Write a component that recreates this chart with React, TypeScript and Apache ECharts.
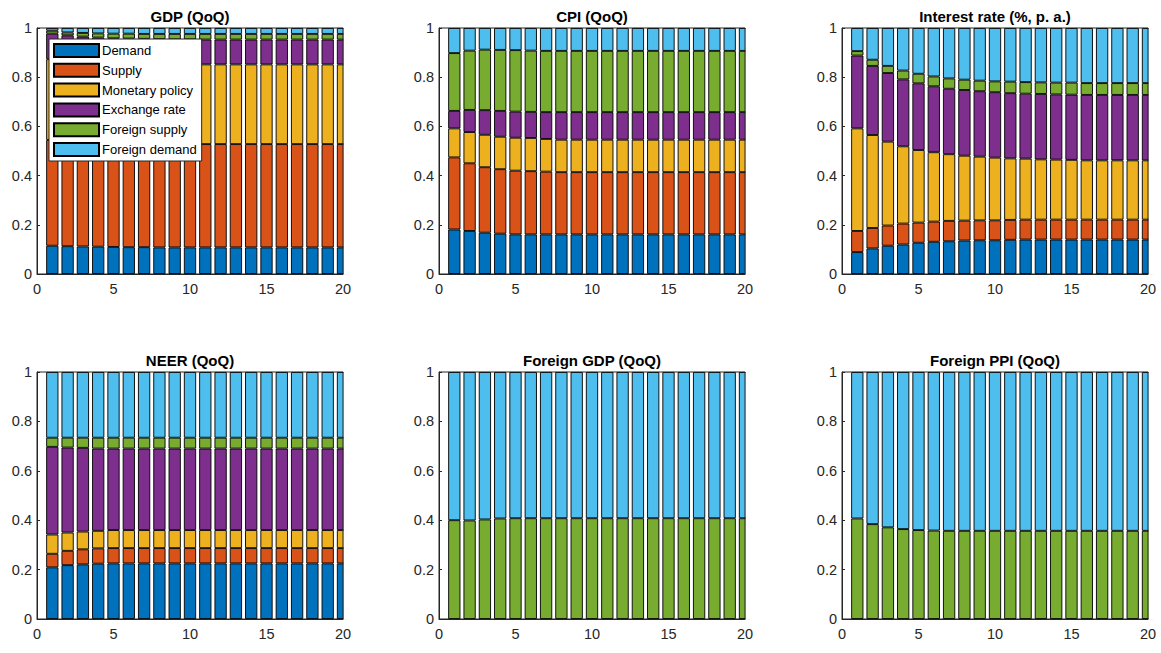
import React, { useEffect, useRef } from "react";
import * as echarts from "echarts";

const axisCategories = ["0", "1", "2", "3", "4", "5", "6", "7", "8", "9", "10", "11", "12", "13", "14", "15", "16", "17", "18", "19", "20"];
const periods = ["1", "2", "3", "4", "5", "6", "7", "8", "9", "10", "11", "12", "13", "14", "15", "16", "17", "18", "19", "20"];
const shockNames = ["Demand", "Supply", "Monetary policy", "Exchange rate", "Foreign supply", "Foreign demand"];
const shockColors = ["#0072BD", "#D95319", "#EDB120", "#7E2F8E", "#77AC30", "#4DBEEE"];
const panelTitles = ["GDP (QoQ)", "CPI (QoQ)", "Interest rate (%, p. a.)", "NEER (QoQ)", "Foreign GDP (QoQ)", "Foreign PPI (QoQ)"];
const yTicks = [0, 0.2, 0.4, 0.6, 0.8, 1];

// GDP (QoQ)
const gdpDemand = [0.115, 0.113, 0.112, 0.111, 0.110, 0.109, 0.109, 0.108, 0.108, 0.108, 0.108, 0.108, 0.108, 0.108, 0.108, 0.108, 0.108, 0.108, 0.108, 0.108];
const gdpSupply = [0.430, 0.425, 0.422, 0.421, 0.421, 0.421, 0.420, 0.421, 0.420, 0.420, 0.420, 0.420, 0.420, 0.420, 0.420, 0.420, 0.420, 0.420, 0.420, 0.420];
const gdpMonetary = [0.328, 0.327, 0.326, 0.325, 0.324, 0.324, 0.324, 0.324, 0.324, 0.324, 0.324, 0.324, 0.324, 0.324, 0.324, 0.324, 0.324, 0.324, 0.324, 0.324];
const gdpExchange = [0.104, 0.105, 0.105, 0.104, 0.103, 0.103, 0.103, 0.102, 0.102, 0.102, 0.101, 0.101, 0.101, 0.101, 0.101, 0.101, 0.101, 0.101, 0.101, 0.101];
const gdpForeignSupply = [0.012, 0.012, 0.015, 0.017, 0.019, 0.020, 0.020, 0.021, 0.022, 0.022, 0.023, 0.023, 0.023, 0.023, 0.023, 0.023, 0.023, 0.023, 0.023, 0.023];
const gdpForeignDemand = [0.011, 0.018, 0.020, 0.022, 0.023, 0.023, 0.024, 0.024, 0.024, 0.024, 0.024, 0.024, 0.024, 0.024, 0.024, 0.024, 0.024, 0.024, 0.024, 0.024];

// CPI (QoQ)
const cpiDemand = [0.181, 0.175, 0.168, 0.164, 0.161, 0.161, 0.161, 0.161, 0.161, 0.161, 0.161, 0.161, 0.161, 0.161, 0.161, 0.161, 0.161, 0.161, 0.161, 0.161];
const cpiSupply = [0.293, 0.275, 0.266, 0.262, 0.259, 0.257, 0.255, 0.253, 0.253, 0.253, 0.253, 0.253, 0.253, 0.253, 0.253, 0.253, 0.253, 0.253, 0.253, 0.253];
const cpiMonetary = [0.118, 0.127, 0.132, 0.132, 0.134, 0.135, 0.133, 0.132, 0.132, 0.132, 0.132, 0.132, 0.132, 0.132, 0.132, 0.132, 0.132, 0.132, 0.132, 0.132];
const cpiExchange = [0.071, 0.090, 0.100, 0.105, 0.106, 0.106, 0.109, 0.112, 0.112, 0.112, 0.112, 0.112, 0.112, 0.112, 0.112, 0.112, 0.112, 0.112, 0.112, 0.112];
const cpiForeignSupply = [0.235, 0.241, 0.246, 0.248, 0.250, 0.249, 0.249, 0.249, 0.249, 0.249, 0.249, 0.249, 0.249, 0.249, 0.249, 0.249, 0.249, 0.249, 0.249, 0.249];
const cpiForeignDemand = [0.102, 0.092, 0.088, 0.089, 0.090, 0.092, 0.093, 0.093, 0.093, 0.093, 0.093, 0.093, 0.093, 0.093, 0.093, 0.093, 0.093, 0.093, 0.093, 0.093];

// Interest rate (%, p. a.)
const rateDemand = [0.089, 0.104, 0.115, 0.120, 0.127, 0.131, 0.133, 0.136, 0.137, 0.137, 0.139, 0.140, 0.140, 0.140, 0.140, 0.140, 0.140, 0.140, 0.140, 0.140];
const rateSupply = [0.086, 0.083, 0.082, 0.085, 0.082, 0.082, 0.083, 0.081, 0.081, 0.081, 0.081, 0.081, 0.081, 0.081, 0.081, 0.081, 0.081, 0.081, 0.081, 0.081];
const rateMonetary = [0.417, 0.378, 0.341, 0.314, 0.295, 0.282, 0.271, 0.264, 0.259, 0.255, 0.250, 0.248, 0.245, 0.244, 0.243, 0.241, 0.241, 0.241, 0.241, 0.241];
const rateExchange = [0.296, 0.281, 0.279, 0.272, 0.271, 0.268, 0.266, 0.267, 0.266, 0.266, 0.265, 0.264, 0.266, 0.265, 0.265, 0.266, 0.266, 0.266, 0.266, 0.266];
const rateForeignSupply = [0.018, 0.025, 0.029, 0.036, 0.039, 0.040, 0.042, 0.042, 0.043, 0.044, 0.047, 0.047, 0.047, 0.048, 0.049, 0.048, 0.048, 0.048, 0.048, 0.048];
const rateForeignDemand = [0.094, 0.129, 0.154, 0.173, 0.186, 0.197, 0.205, 0.210, 0.214, 0.217, 0.218, 0.220, 0.221, 0.222, 0.222, 0.224, 0.224, 0.224, 0.224, 0.224];

// NEER (QoQ)
const neerDemand = [0.209, 0.218, 0.221, 0.224, 0.225, 0.225, 0.225, 0.225, 0.225, 0.225, 0.225, 0.225, 0.225, 0.225, 0.225, 0.225, 0.225, 0.225, 0.225, 0.225];
const neerSupply = [0.055, 0.058, 0.061, 0.062, 0.062, 0.062, 0.062, 0.062, 0.062, 0.062, 0.062, 0.062, 0.062, 0.062, 0.062, 0.062, 0.062, 0.062, 0.062, 0.062];
const neerMonetary = [0.078, 0.074, 0.072, 0.071, 0.073, 0.073, 0.073, 0.073, 0.073, 0.073, 0.073, 0.073, 0.073, 0.073, 0.073, 0.073, 0.073, 0.073, 0.073, 0.073];
const neerExchange = [0.355, 0.344, 0.339, 0.333, 0.330, 0.330, 0.330, 0.330, 0.330, 0.330, 0.330, 0.330, 0.330, 0.330, 0.330, 0.330, 0.330, 0.330, 0.330, 0.330];
const neerForeignSupply = [0.037, 0.040, 0.041, 0.044, 0.044, 0.044, 0.044, 0.044, 0.044, 0.044, 0.044, 0.044, 0.044, 0.044, 0.044, 0.044, 0.044, 0.044, 0.044, 0.044];
const neerForeignDemand = [0.266, 0.266, 0.266, 0.266, 0.266, 0.266, 0.266, 0.266, 0.266, 0.266, 0.266, 0.266, 0.266, 0.266, 0.266, 0.266, 0.266, 0.266, 0.266, 0.266];

// Foreign GDP (QoQ)
const fgdpForeignSupply = [0.400, 0.399, 0.403, 0.407, 0.408, 0.408, 0.408, 0.408, 0.408, 0.408, 0.408, 0.408, 0.408, 0.408, 0.408, 0.408, 0.408, 0.408, 0.408, 0.408];
const fgdpForeignDemand = [0.600, 0.601, 0.597, 0.593, 0.592, 0.592, 0.592, 0.592, 0.592, 0.592, 0.592, 0.592, 0.592, 0.592, 0.592, 0.592, 0.592, 0.592, 0.592, 0.592];

// Foreign PPI (QoQ)
const fppiForeignSupply = [0.407, 0.384, 0.371, 0.364, 0.360, 0.358, 0.357, 0.357, 0.357, 0.357, 0.357, 0.357, 0.357, 0.357, 0.357, 0.357, 0.357, 0.357, 0.357, 0.357];
const fppiForeignDemand = [0.593, 0.616, 0.629, 0.636, 0.640, 0.642, 0.643, 0.643, 0.643, 0.643, 0.643, 0.643, 0.643, 0.643, 0.643, 0.643, 0.643, 0.643, 0.643, 0.643];

const panelData: (number[] | null)[][] = [
  [gdpDemand, gdpSupply, gdpMonetary, gdpExchange, gdpForeignSupply, gdpForeignDemand],
  [cpiDemand, cpiSupply, cpiMonetary, cpiExchange, cpiForeignSupply, cpiForeignDemand],
  [rateDemand, rateSupply, rateMonetary, rateExchange, rateForeignSupply, rateForeignDemand],
  [neerDemand, neerSupply, neerMonetary, neerExchange, neerForeignSupply, neerForeignDemand],
  [null, null, null, null, fgdpForeignSupply, fgdpForeignDemand],
  [null, null, null, null, fppiForeignSupply, fppiForeignDemand],
];

const FONT = '"Liberation Sans", Arial, Helvetica, sans-serif';
const AXIS_COLOR = "#262626";

export default function App() {
  const ref = useRef<HTMLDivElement>(null);

  useEffect(() => {
    document.body.style.margin = "0";
    if (!ref.current) return;
    const chart = echarts.init(ref.current, undefined, { renderer: "svg" });

    const colLefts = [37, 439, 842];
    const rowTops = [28, 372];
    const gridW = 306;
    const rowHeights = [246, 247];
    const unitPx = gridW / (axisCategories.length - 1);

    const grids: any[] = [];
    const xAxes: any[] = [];
    const yAxes: any[] = [];
    const series: any[] = [];
    const graphics: any[] = [];

    panelTitles.forEach((title, p) => {
      const col = p % 3;
      const row = Math.floor(p / 3);
      const left = colLefts[col];
      const top = rowTops[row];
      const h = rowHeights[row];
      grids.push({
        left,
        top,
        width: gridW,
        height: h,
        show: true,
        borderColor: AXIS_COLOR,
        borderWidth: 1,
        backgroundColor: "#fff",
        containLabel: false,
      });
      xAxes.push({
        type: "category",
        gridIndex: p,
        data: axisCategories,
        boundaryGap: false,
        axisLine: { show: true, onZero: false, lineStyle: { color: AXIS_COLOR, width: 1 } },
        axisTick: { show: true, inside: true, length: 3, interval: 4, lineStyle: { color: AXIS_COLOR } },
        axisLabel: { color: AXIS_COLOR, fontSize: 14.5, fontFamily: FONT, margin: 7, interval: 4 },
        splitLine: { show: false },
      });
      yAxes.push({
        type: "value",
        gridIndex: p,
        min: yTicks[0],
        max: yTicks[yTicks.length - 1],
        interval: 0.2,
        axisLine: { show: true, lineStyle: { color: AXIS_COLOR, width: 1 } },
        axisTick: { show: true, inside: true, length: 3, lineStyle: { color: AXIS_COLOR } },
        axisLabel: { color: AXIS_COLOR, fontSize: 14.5, fontFamily: FONT, margin: 5 },
        splitLine: { show: false },
      });
      panelData[p].forEach((arr, s) => {
        if (!arr) return;
        series.push({
          type: "bar",
          name: shockNames[s],
          stack: "panel" + p,
          xAxisIndex: p,
          yAxisIndex: p,
          barWidth: unitPx * 0.8,
          clip: true,
          data: periods.map((x, i) => [x, arr[i]]),
          itemStyle: { color: shockColors[s], borderColor: "#000", borderWidth: 0.9 },
          emphasis: { disabled: true },
        });
      });
      // mask the half of the last bar that falls outside the plot box, then redraw the box edge
      graphics.push({
        type: "rect",
        z: 100,
        silent: true,
        shape: { x: left + gridW + 0.5, y: top - 2, width: 10, height: h + 2 },
        style: { fill: "#fff" },
      });
      graphics.push({
        type: "line",
        z: 101,
        silent: true,
        shape: { x1: left + gridW, y1: top, x2: left + gridW, y2: top + h },
        style: { stroke: AXIS_COLOR, lineWidth: 1 },
      });
      graphics.push({
        type: "text",
        x: left + gridW / 2,
        y: row === 0 ? 16 : 360,
        style: {
          text: title,
          fill: "#000",
          fontSize: 15,
          fontWeight: "bold",
          fontFamily: FONT,
          align: "center",
          verticalAlign: "middle",
        },
      });
    });

    chart.setOption({
      animation: false,
      backgroundColor: "#fff",
      grid: grids,
      xAxis: xAxes,
      yAxis: yAxes,
      series,
      graphic: graphics,
      legend: {
        orient: "vertical",
        left: 49,
        top: 39,
        data: shockNames,
        icon: "rect",
        itemWidth: 45,
        itemHeight: 13,
        itemGap: 4.8,
        padding: [4, 5, 4, 4],
        backgroundColor: "#fff",
        borderColor: AXIS_COLOR,
        borderWidth: 1,
        selectedMode: false,
        textStyle: { fontSize: 13, color: "#000", fontFamily: FONT, lineHeight: 13, padding: [0, 0, 0, -2] },
      },
    });

    return () => {
      chart.dispose();
    };
  }, []);

  return <div ref={ref} style={{ width: 1161, height: 653 }} />;
}
